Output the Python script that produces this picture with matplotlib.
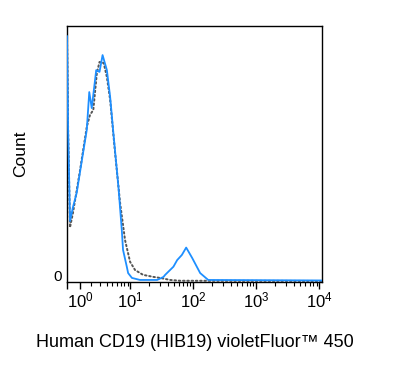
import numpy as np
import matplotlib
matplotlib.use("Agg")
import matplotlib.pyplot as plt
from matplotlib.ticker import FixedLocator, FixedFormatter, NullFormatter

plt.rcParams['font.family'] = ['Liberation Sans', 'DejaVu Sans']
plt.rcParams['mathtext.fontset'] = 'custom'
plt.rcParams['mathtext.rm'] = 'Liberation Sans'
plt.rcParams['mathtext.it'] = 'Liberation Sans'

# Stained sample (blue solid)
blue_x = [0, 0.08, 0.22, 0.44, 0.72, 1.24, 1.57, 1.81, 2.06, 2.56, 2.97, 3.39, 4.05,
          4.62, 5.25, 6.38, 7.25, 7.6, 8.77, 9.2, 10.6, 14.3, 26.8, 33.8, 35.9, 48.6,
          55.7, 66.1, 77.4, 96.5, 129, 173, 11000]
blue_y = [96, 60, 23.5, 29, 34.5, 50.2, 59.2, 74.1, 67.8, 82.7, 82, 88.6, 82.7,
          72.2, 58, 36.9, 20, 12.2, 5.5, 3.1, 1.2, 0.4, 0.4, 1.6, 2.4, 5.6,
          8.2, 10.2, 13.1, 9, 3.1, 0.4, 0.2]

# Isotype / unstained control (gray dotted)
gray_x = [0, 0.08, 0.22, 0.44, 0.99, 1.57, 1.88, 2.23, 2.64, 2.97, 3.55, 4.05, 4.62,
          5.61, 6.80, 8.2, 9.9, 11.9, 16.0, 23.4, 29.9, 43.1, 62.2, 11000]
gray_y = [96, 60, 21, 26.7, 43.5, 60.4, 65.1, 67.1, 81.6, 85.9, 85.5, 80, 71,
          50.2, 30.6, 16, 7.5, 4.3, 2.4, 1.6, 1.2, 0.4, 0.1, 0.0]

major_ticks = [1, 10, 100, 1000, 10000]
major_labels = ['$10^0$', '$10^1$', '$10^2$', '$10^3$', '$10^4$']
minor_ticks = [m * 10 ** e for e in range(0, 4) for m in range(2, 10)]

C = 2.0
def fwd(x):
    return np.arcsinh(np.asarray(x) / C)
def inv(y):
    return C * np.sinh(np.asarray(y))

fig = plt.figure(figsize=(3.95, 3.83), dpi=100)
ax = fig.add_axes([67 / 395, 1 - 282 / 383, 255 / 395, 256 / 383])
ax.set_xscale('function', functions=(fwd, inv))

ax.plot(gray_x, gray_y, color='#555555', lw=1.4, ls=(0, (0.8, 1.4)),
        dash_capstyle='round', zorder=2)
ax.plot(blue_x, blue_y, color='#1e8fff', lw=1.3, zorder=3)

ax.set_xlim(0, 11000)
ax.set_ylim(-0.4, 100)

ax.xaxis.set_major_locator(FixedLocator([0] + major_ticks))
ax.xaxis.set_major_formatter(FixedFormatter([''] + major_labels))
ax.xaxis.set_minor_locator(FixedLocator(minor_ticks))
ax.xaxis.set_minor_formatter(NullFormatter())
ax.tick_params(axis='x', which='major', length=5, width=1, labelsize=12, pad=1, color='black')
ax.tick_params(axis='x', which='minor', length=3, width=0.8, color='black')

ax.yaxis.set_major_locator(FixedLocator([0]))
ax.yaxis.set_major_formatter(FixedFormatter(['0']))
ax.tick_params(axis='y', length=0, labelsize=11, pad=4)
for lab in ax.get_yticklabels():
    lab.set_va('baseline')

for s in ax.spines.values():
    s.set_color('black')
    s.set_linewidth(1.0)

ax.set_ylabel('Count', fontsize=12.5, labelpad=18)
ax.set_xlabel('Human CD19 (HIB19) violetFluor™ 450', fontsize=13, labelpad=17)

fig.savefig('out.png', dpi=100)
